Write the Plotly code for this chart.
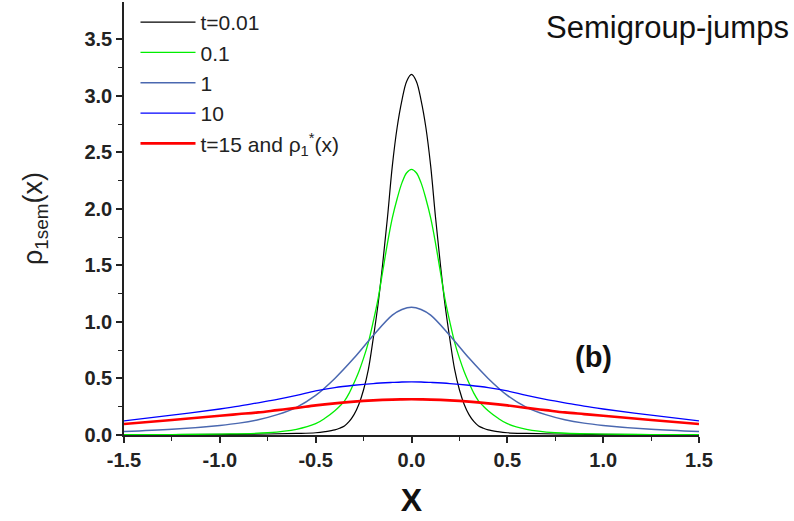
import plotly.graph_objects as go

# ---- data ----
x_narrow = [-1.5, -1.25, -1.0, -0.75, -0.6, -0.5, -0.45, -0.4, -0.375, -0.35, -0.325, -0.3,
            -0.275, -0.25, -0.225, -0.2, -0.175, -0.15, -0.125, -0.1, -0.075, -0.05, -0.025,
            0.0,
            0.025, 0.05, 0.075, 0.1, 0.125, 0.15, 0.175, 0.2, 0.225, 0.25, 0.275,
            0.3, 0.325, 0.35, 0.375, 0.4, 0.45, 0.5, 0.6, 0.75, 1.0, 1.25, 1.5]

t001 = [0.002, 0.003, 0.005, 0.009, 0.014, 0.02, 0.03, 0.045, 0.06, 0.08, 0.12, 0.18,
        0.27, 0.40, 0.58, 0.85, 1.15, 1.52, 1.93, 2.38, 2.72, 2.96, 3.13,
        3.19,
        3.13, 2.96, 2.72, 2.38, 1.93, 1.52, 1.15, 0.85, 0.58, 0.40, 0.27,
        0.18, 0.12, 0.08, 0.06, 0.045, 0.03, 0.02, 0.014, 0.009, 0.005, 0.003, 0.002]

t01 = [0.002, 0.004, 0.008, 0.02, 0.05, 0.10, 0.15, 0.215, 0.255, 0.30, 0.37, 0.46,
       0.56, 0.68, 0.82, 1.00, 1.20, 1.45, 1.70, 1.92, 2.09, 2.23, 2.32,
       2.35,
       2.32, 2.23, 2.09, 1.92, 1.70, 1.45, 1.20, 1.00, 0.82, 0.68, 0.56,
       0.46, 0.37, 0.30, 0.255, 0.215, 0.15, 0.10, 0.05, 0.02, 0.008, 0.004, 0.002]

x_wide = [-1.5, -1.25, -1.0, -0.9, -0.8, -0.7, -0.6, -0.5, -0.4, -0.3, -0.2, -0.1, -0.05, 0.0,
          0.05, 0.1, 0.2, 0.3, 0.4, 0.5, 0.6, 0.7, 0.8, 0.9, 1.0, 1.25, 1.5]

t1 = [0.03, 0.05, 0.085, 0.105, 0.135, 0.18, 0.245, 0.35, 0.50, 0.68, 0.88, 1.06, 1.11, 1.13,
      1.11, 1.06, 0.88, 0.68, 0.50, 0.35, 0.245, 0.18, 0.135, 0.105, 0.085, 0.05, 0.03]

t10 = [0.125, 0.175, 0.23, 0.255, 0.285, 0.315, 0.35, 0.39, 0.42, 0.44, 0.455, 0.465, 0.469, 0.47,
       0.469, 0.465, 0.455, 0.44, 0.42, 0.39, 0.35, 0.315, 0.285, 0.255, 0.23, 0.175, 0.125]

t15 = [0.097, 0.133, 0.17, 0.185, 0.20, 0.22, 0.24, 0.262, 0.28, 0.295, 0.306, 0.313, 0.315, 0.316,
       0.315, 0.313, 0.306, 0.295, 0.28, 0.262, 0.24, 0.22, 0.20, 0.185, 0.17, 0.133, 0.097]

names = ["t=0.01", "0.1", "1", "10", "t=15 and \u03c1<sub>1</sub><sup>*</sup>(x)"]
colors = ["#000000", "#00ee00", "#4a68b0", "#0000ff", "#ff0000"]
widths = [1.2, 1.3, 1.5, 1.3, 2.6]

xticks = [-1.5, -1.0, -0.5, 0.0, 0.5, 1.0, 1.5]
yticks = [0.0, 0.5, 1.0, 1.5, 2.0, 2.5, 3.0, 3.5]

FONT = "Arial, Liberation Sans, sans-serif"

fig = go.Figure()
series = [(x_narrow, t001), (x_narrow, t01), (x_wide, t1), (x_wide, t10), (x_wide, t15)]
for i, (xs, ys) in enumerate(series):
    fig.add_trace(go.Scatter(
        x=xs, y=ys, mode="lines", name=names[i],
        line=dict(color=colors[i], width=widths[i], shape="spline", smoothing=1.0),
        legendgroup=str(i),
    ))

fig.update_layout(
    width=794, height=521,
    margin=dict(l=124, r=95, t=2, b=86),
    plot_bgcolor="white", paper_bgcolor="white",
    font=dict(family=FONT, color="#222222"),
    showlegend=True,
    legend=dict(
        x=0.02, y=1.0, xanchor="left", yanchor="top",
        bgcolor="rgba(0,0,0,0)", font=dict(size=21, family=FONT, color="#222222"),
        itemwidth=55, tracegroupgap=0,
    ),
)

fig.update_xaxes(
    range=[-1.5, 1.5], tickvals=xticks, ticktext=[f"<b>{v:.1f}</b>" for v in xticks],
    automargin=False,
    showgrid=False, zeroline=False,
    showline=True, linecolor="#222222", linewidth=1.5,
    ticks="outside", ticklen=6, tickwidth=1.5, tickcolor="#222222",
    minor=dict(ticks="outside", tickvals=[-1.25, -0.75, -0.25, 0.25, 0.75, 1.25],
               ticklen=4, tickwidth=1.2, tickcolor="#222222"),
    tickfont=dict(size=20, family=FONT, color="#222222"),
    title=dict(text="<b>X</b>", font=dict(size=32, family=FONT, color="#111111"),
               standoff=19),
)

fig.update_yaxes(
    range=[0, 3.83], tickvals=yticks, ticktext=[f"<b>{v:.1f}</b>" for v in yticks],
    automargin=False,
    showgrid=False, zeroline=False,
    showline=True, linecolor="#222222", linewidth=1.5,
    ticks="outside", ticklen=6, tickwidth=1.5, tickcolor="#222222",
    minor=dict(ticks="outside", tickvals=[0.25, 0.75, 1.25, 1.75, 2.25, 2.75, 3.25],
               ticklen=4, tickwidth=1.2, tickcolor="#222222"),
    tickfont=dict(size=20, family=FONT, color="#222222"),
    title=dict(text="\u03c1<sub>1sem</sub>(x)", font=dict(size=27, family=FONT, color="#222222"),
               standoff=34),
)

fig.add_annotation(
    text="Semigroup-jumps", xref="paper", yref="paper",
    x=1.16, y=0.94, xanchor="right", yanchor="middle", showarrow=False,
    font=dict(size=31, family=FONT, color="#111111"),
)
fig.add_annotation(
    text="<b>(b)</b>", xref="x", yref="y", x=0.95, y=0.69, showarrow=False,
    font=dict(size=29, family=FONT, color="#111111"),
)

fig.write_html("out.html")
